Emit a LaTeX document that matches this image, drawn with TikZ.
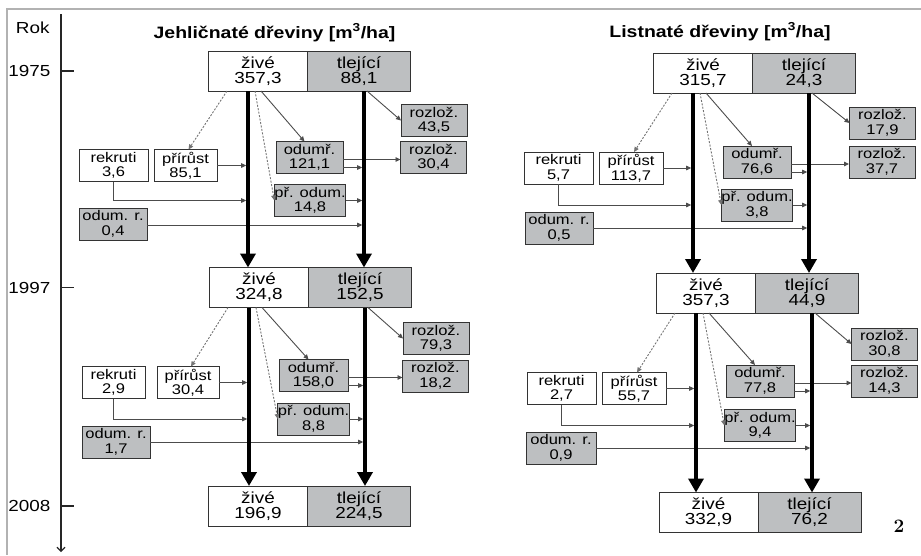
\documentclass[tikz,border=0pt]{standalone}
\usepackage{fontspec}
\setsansfont{Liberation Sans}[FakeStretch=1.18]
\usetikzlibrary{positioning,arrows.meta}
\definecolor{deadgray}{RGB}{189,191,193}
\definecolor{framegray}{RGB}{178,178,178}

\begin{document}
\begin{tikzpicture}[
    x=1pt, y=-1pt,
    box/.style={rectangle, draw=black!80, line width=0.9pt, inner sep=0pt, outer sep=0pt, align=center},
    live/.style={box, fill=white, minimum width=99pt, minimum height=40pt, font=\sffamily\fontsize{16}{15}\selectfont},
    dead/.style={live, fill=deadgray, minimum width=103pt},
    small/.style={box, fill=white, minimum width=66pt, minimum height=32pt, font=\sffamily\fontsize{14}{14.5}\selectfont},
    smalldead/.style={small, fill=deadgray},
    flow/.style={-{Triangle[length=14pt,width=15pt]}, line width=3.6pt},
    link/.style={-{Triangle[length=5pt,width=4.5pt]}, draw=black!70, line width=0.9pt},
    tothick/.style={link, shorten >=1.8pt},
    hint/.style={link, dash pattern=on 2pt off 1.5pt, draw=black!55},
    yearlab/.style={font=\sffamily\fontsize{16}{16}\selectfont},
    heading/.style={font=\sffamily\bfseries\fontsize{16.5}{16.5}\selectfont}
]
    \useasboundingbox (0,0) rectangle (921,555);

    % frame
    \draw[framegray, line width=2pt] (6,9) -- (921,9);
    \draw[framegray, line width=2pt] (7,9) -- (7,555);

    % time axis
    \coordinate (atop) at (61,14);
    \coordinate (abot) at (61,552);
    \draw[-{Straight Barb[length=4pt,width=8pt]}, line width=1.1pt, black!85] (atop) -- (abot);
    \node[yearlab, anchor=base east] (rok) at (53,33) {Rok};

    % headings
    \node[heading, anchor=base] (hjeh) at (274.5,38) {Jehličnaté dřeviny [m\textsuperscript{3}/ha]};
    \node[heading, anchor=base] (hlist) at (720,37) {Listnaté dřeviny [m\textsuperscript{3}/ha]};

    % ---- Jehličnaté: stocks
    \node[live] (zj75) at (258,71) {živé\\357,3};
    \node[dead, right=0pt of zj75] (tj75) {tlející\\88,1};
    \node[live] (zj97) at (259,287.5) {živé\\324,8};
    \node[dead, right=0pt of zj97] (tj97) {tlející\\152,5};
    \node[live] (zj08) at (258,506) {živé\\196,9};
    \node[dead, right=0pt of zj08] (tj08) {tlející\\224,5};

    % ---- Listnaté: stocks
    \node[live] (zl75) at (703,73) {živé\\315,7};
    \node[dead, right=0pt of zl75] (tl75) {tlející\\24,3};
    \node[live] (zl97) at (706,293) {živé\\357,3};
    \node[dead, right=0pt of zl97] (tl97) {tlející\\44,9};
    \node[live] (zl08) at (708.5,512.5) {živé\\332,9};
    \node[dead, right=0pt of zl08] (tl08) {tlející\\76,2};

    % years
    \foreach \yr/\stk in {1975/zj75, 1997/zj97, 2008/zj08} {
        \draw[line width=1.1pt, black!85] (atop |- \stk) -- ++(13,0);
        \node[yearlab, anchor=east] (y\yr) at ([xshift=-7pt]atop |- \stk) {\yr};
    }

    % thick lines
    \coordinate (lj75) at ([xshift=-10pt]zj75.south);
    \coordinate (dj75) at ([xshift=5pt]tj75.south);
    \coordinate (lj97) at ([xshift=-10pt]zj97.south);
    \coordinate (dj97) at ([xshift=5pt]tj97.south);
    \coordinate (ll75) at ([xshift=-10pt]zl75.south);
    \coordinate (dl75) at ([xshift=5pt]tl75.south);
    \coordinate (ll97) at ([xshift=-10pt]zl97.south);
    \coordinate (dl97) at ([xshift=5pt]tl97.south);

    % ---- Jehličnaté 1975-1997
    \node[small, minimum width=69pt] (rekj1) at (113.5,165.5) {rekruti\\3,6};
    \node[small, minimum width=63pt] (prij1) at (185.5,165.5) {přírůst\\85,1};
    \node[smalldead, minimum width=67pt] (odmj1) at (309.5,157.5) {odumř.\\121,1};
    \node[smalldead] (podj1) at (310,200.5) {př. odum.\\14,8};
    \node[smalldead, minimum width=68pt] (odrj1) at (113,224) {odum. r.\\0,4};
    \node[smalldead] (rzj1a) at (434,120.5) {rozlož.\\43,5};
    \node[smalldead] (rzj1b) at (433.5,157.5) {rozlož.\\30,4};

    \draw[link] ([xshift=8pt]tj75.south) -- (rzj1a.west);
    \draw[link] ([xshift=3pt]zj75.south) -- ([xshift=-5pt]odmj1.north);
    \draw[hint] ([xshift=-31pt]zj75.south) -- ([xshift=3pt]prij1.north);
    \draw[hint] ([xshift=-3pt]zj75.south) -- (podj1.west);
    \draw[tothick] (prij1.east) -- (prij1.east -| lj75);
    \draw[tothick] (rekj1.south) |- (podj1.west -| lj75);
    \draw[tothick] ([yshift=-1pt]odrj1.east) -- ([yshift=-1pt]odrj1.east -| dj75);
    \draw[link] ([yshift=-2pt]odmj1.east) -- ([yshift=-2pt]odmj1.east -| rzj1b.west);
    \draw[tothick] ([yshift=-10pt]odmj1.east) -- ([yshift=-10pt]odmj1.east -| dj75);
    \draw[tothick] (podj1.east) -- (podj1.east -| dj75);

    % ---- Jehličnaté 1997-2008
    \node[small, minimum width=63pt] (rekj2) at (113.5,382.5) {rekruti\\2,9};
    \node[small, minimum width=62pt] (prij2) at (188,382.5) {přírůst\\30,4};
    \node[smalldead, minimum width=69pt] (odmj2) at (313.5,375.5) {odumř.\\158,0};
    \node[smalldead, minimum width=69pt] (podj2) at (313.5,419) {př. odum.\\8,8};
    \node[smalldead, minimum width=68pt] (odrj2) at (116,442) {odum. r.\\1,7};
    \node[smalldead] (rzj2a) at (436,338.5) {rozlož.\\79,3};
    \node[smalldead] (rzj2b) at (435.5,376) {rozlož.\\18,2};

    \draw[link] ([xshift=8pt]tj97.south) -- (rzj2a.west);
    \draw[link] ([xshift=3pt]zj97.south) -- ([xshift=-5pt]odmj2.north);
    \draw[hint] ([xshift=-31pt]zj97.south) -- ([xshift=3pt]prij2.north);
    \draw[hint] ([xshift=-3pt]zj97.south) -- (podj2.west);
    \draw[tothick] (prij2.east) -- (prij2.east -| lj97);
    \draw[tothick] (rekj2.south) |- (podj2.west -| lj97);
    \draw[tothick] (odrj2.east) -- (odrj2.east -| dj97);
    \draw[link] ([yshift=-2pt]odmj2.east) -- ([yshift=-2pt]odmj2.east -| rzj2b.west);
    \draw[tothick] ([yshift=-10pt]odmj2.east) -- ([yshift=-10pt]odmj2.east -| dj97);
    \draw[tothick] (podj2.east) -- (podj2.east -| dj97);

    % ---- Listnaté 1975-1997
    \node[small, minimum width=69pt] (rekl1) at (558.5,168) {rekruti\\5,7};
    \node[small, minimum width=64pt] (pril1) at (631,168) {přírůst\\113,7};
    \node[smalldead, minimum width=68pt] (odml1) at (757,162) {odumř.\\76,6};
    \node[smalldead, minimum width=68pt] (podl1) at (757,205) {př. odum.\\3,8};
    \node[smalldead, minimum width=68pt] (odrl1) at (559,228) {odum. r.\\0,5};
    \node[smalldead] (rzl1a) at (882.5,123) {rozlož.\\17,9};
    \node[smalldead] (rzl1b) at (882,162) {rozlož.\\37,7};

    \draw[link] ([xshift=8pt]tl75.south) -- (rzl1a.west);
    \draw[link] ([xshift=3pt]zl75.south) -- ([xshift=-5pt]odml1.north);
    \draw[hint] ([xshift=-31pt]zl75.south) -- ([xshift=3pt]pril1.north);
    \draw[hint] ([xshift=-3pt]zl75.south) -- (podl1.west);
    \draw[tothick] (pril1.east) -- (pril1.east -| ll75);
    \draw[tothick] (rekl1.south) |- (podl1.west -| ll75);
    \draw[tothick] (odrl1.east) -- (odrl1.east -| dl75);
    \draw[link] ([yshift=-2pt]odml1.east) -- ([yshift=-2pt]odml1.east -| rzl1b.west);
    \draw[tothick] ([yshift=-10pt]odml1.east) -- ([yshift=-10pt]odml1.east -| dl75);
    \draw[tothick] (podl1.east) -- (podl1.east -| dl75);

    % ---- Listnaté 1997-2008
    \node[small, minimum width=69pt] (rekl2) at (561.5,388.5) {rekruti\\2,7};
    \node[small, minimum width=64pt] (pril2) at (634,388.5) {přírůst\\55,7};
    \node[smalldead, minimum width=68pt] (odml2) at (760,381) {odumř.\\77,8};
    \node[smalldead, minimum width=68pt] (podl2) at (760,425.5) {př. odum.\\9,4};
    \node[smalldead, minimum width=70pt] (odrl2) at (561,448) {odum. r.\\0,9};
    \node[smalldead] (rzl2a) at (884.5,344) {rozlož.\\30,8};
    \node[smalldead] (rzl2b) at (884.5,381) {rozlož.\\14,3};

    \draw[link] ([xshift=8pt]tl97.south) -- (rzl2a.west);
    \draw[link] ([xshift=3pt]zl97.south) -- ([xshift=-5pt]odml2.north);
    \draw[hint] ([xshift=-31pt]zl97.south) -- ([xshift=3pt]pril2.north);
    \draw[hint] ([xshift=-3pt]zl97.south) -- (podl2.west);
    \draw[tothick] (pril2.east) -- (pril2.east -| ll97);
    \draw[tothick] (rekl2.south) |- (podl2.west -| ll97);
    \draw[tothick] (odrl2.east) -- (odrl2.east -| dl97);
    \draw[link] ([yshift=-2pt]odml2.east) -- ([yshift=-2pt]odml2.east -| rzl2b.west);
    \draw[tothick] ([yshift=-10pt]odml2.east) -- ([yshift=-10pt]odml2.east -| dl97);
    \draw[tothick] (podl2.east) -- (podl2.east -| dl97);

    % thick flows between the years
    \draw[flow] (lj75) -- (lj75 |- zj97.north);
    \draw[flow] (dj75) -- (dj75 |- tj97.north);
    \draw[flow] (lj97) -- (lj97 |- zj08.north);
    \draw[flow] (dj97) -- (dj97 |- tj08.north);
    \draw[flow] (ll75) -- (ll75 |- zl97.north);
    \draw[flow] (dl75) -- (dl75 |- tl97.north);
    \draw[flow] (ll97) -- (ll97 |- zl08.north);
    \draw[flow] (dl97) -- (dl97 |- tl08.north);

    \node[font=\rmfamily\bfseries\fontsize{19}{19}\selectfont] (fignum) at (899,526) {2};
\end{tikzpicture}
\end{document}
